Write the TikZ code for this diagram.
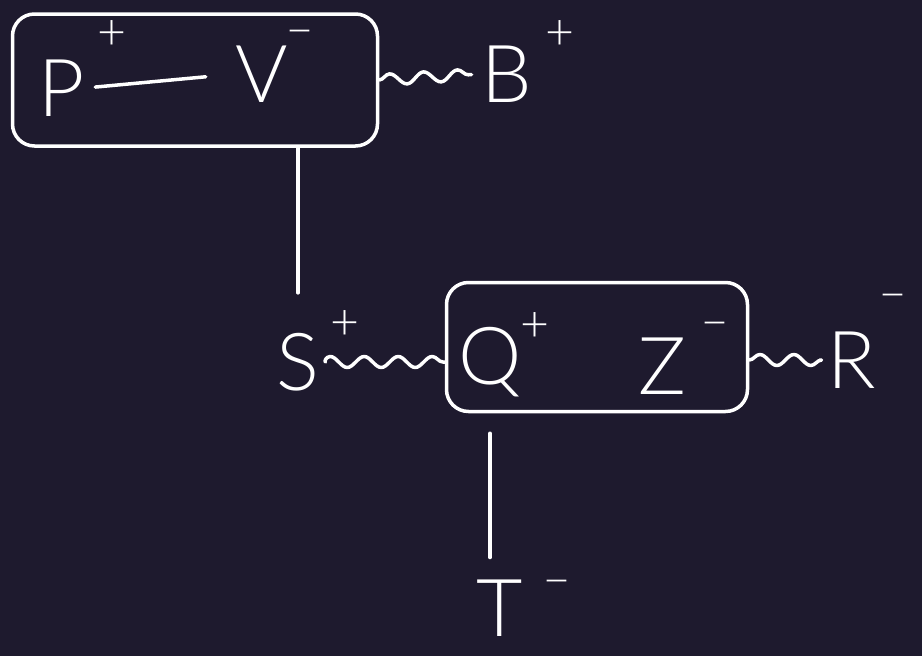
\documentclass[tikz,border=0pt]{standalone}
\usepackage{fontspec}
\setmainfont{Lato}[UprightFont=* Light]
\usetikzlibrary{decorations.pathmorphing}
\definecolor{bg}{RGB}{30,26,46}
\begin{document}
\begin{tikzpicture}[x=1pt,y=-1pt,
  ink/.style={draw=white, line width=3.5pt, line cap=round, line join=round},
  letter/.style={text=white, font=\fontsize{80}{80}\selectfont, inner sep=0pt},
  charge/.style={text=white, font=\fontsize{50}{50}\selectfont, inner sep=0pt},
  boxnode/.style={ink, rounded corners=22pt, inner sep=0pt},
  wave/.style={ink, decorate, decoration={snake, segment length=34pt, amplitude=5.5pt}}]
\fill[bg] (0,0) rectangle (922,656);
\useasboundingbox (0,0) rectangle (922,656);
% boxes
\node[boxnode, minimum width=365pt, minimum height=132pt] (box1) at (195,80) {};
\node[boxnode, minimum width=301pt, minimum height=129pt] (box2) at (597,347) {};
% letters
\node[letter] (P) at (62,88) {P};
\node[charge] (Pc) at (112,35) {+};
\node[letter] (V) at (262,74) {V};
\node[charge] (Vc) at (300,38) {\textendash};
\node[letter] (B) at (507,74) {B};
\node[charge] (Bc) at (560,35) {+};
\node[letter] (S) at (298,362) {S};
\node[charge] (Sc) at (345,325) {+};
\node[letter] (Q) at (490,362) {Q};
\node[charge] (Qc) at (535,327) {+};
\node[letter] (Z) at (662,366) {Z};
\node[charge] (Zc) at (715,330) {\textendash};
\node[letter] (R) at (852,360) {R};
\node[charge] (Rc) at (893,302) {\textendash};
\node[letter] (T) at (500,608) {T};
\node[charge] (Tc) at (557,588) {\textendash};
% connectors
\draw[ink, shorten <=10pt, shorten >=30pt] (P.east) -- (V.west);
\draw[wave, shorten >=10pt] (box1.east) -- (B.west);
\draw[wave, shorten <=6pt] (S.east) -- (box2.west |- S.east);
\draw[wave, shorten >=8pt] (box2.east |- R.west) -- (R.west);
\draw[ink, shorten >=40pt] (box1.south -| S) -- (S.north);
\draw[ink, shorten <=20pt, shorten >=22pt] (box2.south -| Q) -- (Q |- T.north);
\end{tikzpicture}
\end{document}
